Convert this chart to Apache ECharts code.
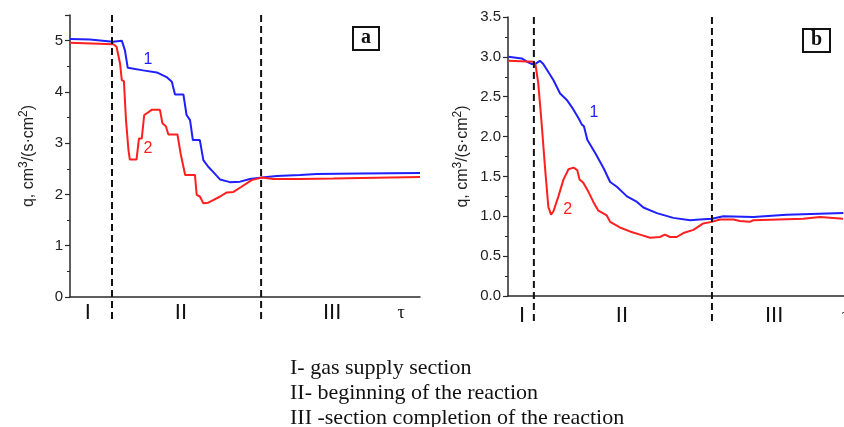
<!DOCTYPE html>
<html>
<head>
<meta charset="utf-8">
<script src="https://cdn.jsdelivr.net/npm/echarts@6/dist/echarts.min.js"></script>
<style>html,body{margin:0;padding:0;background:#fff}#c{width:844px;height:427px}</style>
</head>
<body>
<div id="c"></div>
<script>
// ---- Panel a ----
const aBlue = [[0,5.03],[5.7,5.02],[12.3,4.98],[14.8,5.00],[15.7,4.81],[16.5,4.47],[20.9,4.42],[24.8,4.38],[27.6,4.29],[29.1,4.20],[30.0,3.95],[32.4,3.95],[33.3,3.55],[34.3,3.45],[35.1,3.06],[37.1,3.06],[38.1,2.67],[39.5,2.54],[40.9,2.44],[42.9,2.29],[45.7,2.24],[48.6,2.25],[51.4,2.30],[54.8,2.33],[59.1,2.36],[65.7,2.38],[70.5,2.40],[82.9,2.41],[100,2.42]];
const aRed = [[0,4.96],[12.4,4.93],[13.3,4.88],[14.3,4.55],[14.8,4.23],[15.4,4.21],[16.0,3.45],[16.7,2.87],[17.1,2.68],[19.0,2.68],[19.7,3.09],[20.5,3.09],[21.2,3.55],[21.9,3.58],[23.3,3.65],[25.7,3.65],[26.4,3.39],[27.4,3.33],[28.1,3.17],[30.7,3.17],[31.6,2.80],[32.9,2.38],[35.7,2.38],[36.2,1.99],[37.1,1.96],[38.1,1.83],[39.5,1.84],[40.9,1.89],[42.9,1.96],[44.8,2.04],[46.7,2.05],[49.0,2.15],[51.9,2.28],[54.8,2.33],[58.1,2.30],[65.7,2.30],[75.2,2.31],[100,2.34]];
const aDividers = [12, 54.6];
const aSections = [[5.1,'I'],[31.7,'II'],[74.9,'III'],[94.6,'τ']];
const aCurveLabels = [[22.3,4.64,'1'],[22.3,2.90,'2']];

// ---- Panel b ----
const bBlue = [[0.1,3.00],[4.1,2.98],[5.6,2.94],[7.1,2.91],[8.0,2.91],[9.5,2.95],[10.5,2.91],[12.0,2.81],[13.5,2.71],[15.5,2.54],[17.5,2.46],[19.0,2.37],[21.0,2.23],[22.0,2.15],[22.6,2.13],[23.6,1.96],[26.0,1.79],[28.5,1.60],[30.4,1.43],[32.4,1.37],[35.4,1.25],[38.4,1.18],[40.3,1.11],[44.3,1.04],[49.2,0.98],[54.2,0.95],[57.1,0.96],[60.7,0.97],[64.1,1.00],[73.0,0.99],[82.9,1.02],[99.8,1.04]];
const bRed = [[0.1,2.95],[7.5,2.94],[8.2,2.90],[9.0,2.67],[10.0,2.17],[11.0,1.62],[12.0,1.12],[12.8,1.02],[13.5,1.06],[15.0,1.25],[16.5,1.46],[18.0,1.59],[19.5,1.61],[20.6,1.58],[21.3,1.46],[22.4,1.42],[23.9,1.31],[25.4,1.18],[26.9,1.07],[29.4,1.01],[30.4,0.93],[33.3,0.86],[36.3,0.81],[39.3,0.77],[42.3,0.73],[45.2,0.74],[46.7,0.77],[48.2,0.74],[50.2,0.74],[52.2,0.79],[55.2,0.83],[58.1,0.91],[60.6,0.93],[63.1,0.96],[67.1,0.96],[69.0,0.94],[72.0,0.93],[73.0,0.95],[87.8,0.97],[92.9,0.99],[99.7,0.97]];
const bDividers = [7.7, 60.7];
const bSections = [[4.2,'I'],[33.9,'II'],[79.2,'III'],[100.5,'τ']];
const bCurveLabels = [[25.6,2.30,'1'],[17.8,1.09,'2']];

const yName = '{t|q, cm}{s|3}{t|/(s·cm}{s|2}{t|)}';
const notes = ['I- gas supply section','II- beginning of the reaction','III -section completion of the reaction'];

const BLUE = '#1f1fff', RED = '#ff1f1f', AX = '#2a2a2a';
const labelColors = [BLUE, RED];

function yAxisCfg(idx, max, interval, fmt, gap){
  return {
    type:'value', gridIndex:idx, min:0, max:max, interval:interval,
    name:yName, nameLocation:'middle', nameGap:gap,
    nameTextStyle:{color:'#222', rich:{
      t:{fontFamily:'Liberation Sans', fontSize:16, color:'#222', lineHeight:19, verticalAlign:'bottom'},
      s:{fontFamily:'Liberation Sans', fontSize:12, color:'#222', lineHeight:19, verticalAlign:'top'}
    }},
    axisLine:{show:true, lineStyle:{color:AX, width:1.5}},
    axisTick:{show:true, length:5, inside:false, lineStyle:{color:AX, width:1.2}},
    minorTick:{show:true, splitNumber:2, length:3, lineStyle:{color:AX, width:1}},
    splitLine:{show:false},
    axisLabel:{fontFamily:'Liberation Sans', fontSize:15, color:'#222', margin:7, showMaxLabel: fmt!==null, formatter: fmt || (v=>String(v))}
  };
}
function xAxisCfg(idx){
  return {type:'value', gridIndex:idx, min:0, max:100,
    axisLine:{show:true, onZero:false, lineStyle:{color:AX, width:1.5}},
    axisTick:{show:false}, axisLabel:{show:false}, splitLine:{show:false}};
}
function lineSeries(idx, data, color){
  return {type:'line', xAxisIndex:idx, yAxisIndex:idx, data:data, showSymbol:false, symbol:'none',
    lineStyle:{color:color, width:2}, clip:false, animation:false, z:3};
}
function dividerSeries(idx, data, ymax, ext){
  return {type:'custom', xAxisIndex:idx, yAxisIndex:idx, data:data.map(v=>[v]), clip:false, animation:false, z:4,
    renderItem:(p, api)=>{
      const t = api.coord([api.value(0), ymax]);
      const b = api.coord([api.value(0), 0]);
      return {type:'line', shape:{x1:t[0], y1:t[1], x2:b[0], y2:b[1]+ext},
        style:{stroke:'#111', lineWidth:2, lineDash:[7,4]}};
    }};
}
function sectionSeries(idx, data, dy){
  return {type:'custom', xAxisIndex:idx, yAxisIndex:idx, data:data, clip:false, animation:false,
    renderItem:(p, api)=>{
      const txt = data[p.dataIndex][1];
      const c = api.coord([api.value(0), 0]);
      const isTau = txt === 'τ';
      return {type:'text', x:c[0], y:c[1]+dy, style:{text:txt, fill:'#111',
        font: isTau ? '18px "Liberation Serif"' : '22px "Liberation Sans"',
        align:'center', verticalAlign:'middle'}};
    }};
}
function curveLabelSeries(idx, data){
  return {type:'custom', xAxisIndex:idx, yAxisIndex:idx, data:data, clip:false, animation:false,
    renderItem:(p, api)=>{
      const c = api.coord([api.value(0), api.value(1)]);
      return {type:'text', x:c[0], y:c[1], style:{text:data[p.dataIndex][2], fill:labelColors[p.dataIndex],
        font:'16px "Liberation Sans"', align:'center', verticalAlign:'middle'}};
    }};
}

const chart = echarts.init(document.getElementById('c'), null, {renderer:'canvas'});
chart.setOption({
  animation:false,
  backgroundColor:'#fff',
  title:[
    {text:'a', left:353, top:27, padding:[1,8,2,8], borderColor:'#111', borderWidth:2,
     textStyle:{fontFamily:'Liberation Serif', fontWeight:'bold', fontSize:20, color:'#111'}},
    {text:'b', left:803, top:29, padding:[1,8,2,8], borderColor:'#111', borderWidth:2,
     textStyle:{fontFamily:'Liberation Serif', fontWeight:'bold', fontSize:20, color:'#111'}}
  ],
  grid:[
    {left:70, top:15, width:350, height:282},
    {left:508, top:17, width:336, height:279}
  ],
  xAxis:[xAxisCfg(0), xAxisCfg(1)],
  yAxis:[
    yAxisCfg(0, 5.5, 1, null, 33),
    yAxisCfg(1, 3.5, 0.5, v=>v.toFixed(1), 37)
  ],
  graphic: notes.map((t,i)=>({type:'text', left:290, top:357 + i*25,
    style:{text:t, font:'22px "Liberation Serif"', fill:'#111'}})),
  series:[
    lineSeries(0, aBlue, BLUE), lineSeries(0, aRed, RED),
    dividerSeries(0, aDividers, 5.5, 25),
    sectionSeries(0, aSections, 16),
    curveLabelSeries(0, aCurveLabels),
    lineSeries(1, bBlue, BLUE), lineSeries(1, bRed, RED),
    dividerSeries(1, bDividers, 3.5, 29),
    sectionSeries(1, bSections, 20),
    curveLabelSeries(1, bCurveLabels)
  ]
});
</script>
</body>
</html>
